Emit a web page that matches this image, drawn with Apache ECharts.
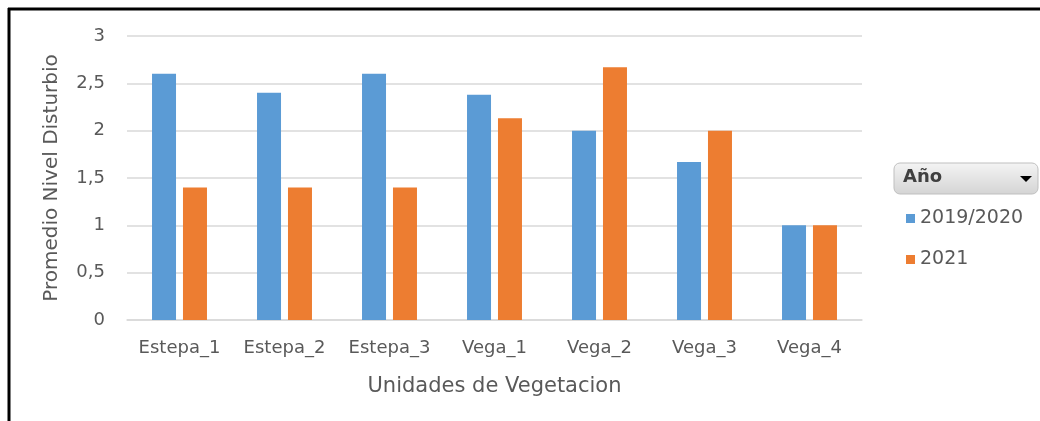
<!DOCTYPE html>
<html>
<head>
<meta charset="utf-8">
<script src="https://cdn.jsdelivr.net/npm/echarts@6/dist/echarts.min.js"></script>
<style>
  html, body { margin: 0; padding: 0; background: #fff; }
  #chart { width: 1040px; height: 421px; }
</style>
</head>
<body>
<div id="chart"></div>
<script>
// datos
const categorias = ['Estepa_1', 'Estepa_2', 'Estepa_3', 'Vega_1', 'Vega_2', 'Vega_3', 'Vega_4'];
const serie2019 = [2.6, 2.4, 2.6, 2.38, 2.0, 1.67, 1.0];
const serie2021 = [1.4, 1.4, 1.4, 2.13, 2.67, 2.0, 1.0];
const ticksY = ['0', '0,5', '1', '1,5', '2', '2,5', '3'];

const fuente = 'DejaVu Sans';
const gris = '#595959';

const myChart = echarts.init(document.getElementById('chart'));

const option = {
  animation: false,
  textStyle: { fontFamily: fuente },
  grid: { left: 127, right: 178, top: 36, bottom: 101 },
  legend: [
    {
      data: ['2019/2020'],
      left: 901, top: 204,
      icon: 'rect', itemWidth: 9, itemHeight: 9, itemGap: 8,
      textStyle: { color: gris, fontSize: 19, fontFamily: fuente }
    },
    {
      data: ['2021'],
      left: 901, top: 245,
      icon: 'rect', itemWidth: 9, itemHeight: 9, itemGap: 8,
      textStyle: { color: gris, fontSize: 19, fontFamily: fuente }
    }
  ],
  xAxis: {
    type: 'category',
    data: categorias,
    name: 'Unidades de Vegetacion',
    nameLocation: 'middle',
    nameGap: 56,
    nameTextStyle: { color: gris, fontSize: 21, fontFamily: fuente },
    axisLine: { lineStyle: { color: '#d9d9d9', width: 1.5 } },
    axisTick: { show: false },
    axisLabel: { color: gris, fontSize: 18, margin: 19, interval: 0, fontFamily: fuente }
  },
  yAxis: {
    type: 'value',
    min: 0, max: 3, interval: 0.5,
    name: 'Promedio Nivel Disturbio',
    nameLocation: 'middle',
    nameGap: 65,
    nameTextStyle: { color: gris, fontSize: 20, fontFamily: fuente },
    axisLine: { show: false },
    axisTick: { show: false },
    splitLine: { lineStyle: { color: '#d9d9d9', width: 1.5 } },
    axisLabel: {
      color: gris, fontSize: 18, margin: 22, fontFamily: fuente,
      formatter: (v) => ticksY[Math.round(v * 2)]
    }
  },
  series: [
    {
      name: '2019/2020',
      type: 'bar',
      data: serie2019,
      barWidth: 24,
      barGap: '29%',
      itemStyle: { color: '#5b9bd5' }
    },
    {
      name: '2021',
      type: 'bar',
      data: serie2021,
      barWidth: 24,
      itemStyle: { color: '#ed7d31' }
    }
  ],
  graphic: [
    // marco negro (arriba e izquierda)
    { type: 'line', shape: { x1: 8, y1: 9, x2: 1040, y2: 9 }, style: { stroke: '#000', lineWidth: 3 } },
    { type: 'line', shape: { x1: 9, y1: 8, x2: 9, y2: 421 }, style: { stroke: '#000', lineWidth: 3 } },
    // boton del filtro "Año"
    {
      type: 'rect',
      shape: { x: 894, y: 163, width: 144, height: 31, r: 6 },
      style: {
        fill: new echarts.graphic.LinearGradient(0, 0, 0, 1, [
          { offset: 0, color: '#f4f4f4' },
          { offset: 1, color: '#d4d4d4' }
        ]),
        stroke: '#bfbfbf', lineWidth: 1
      }
    },
    {
      type: 'text', left: 903, top: 168,
      style: { text: 'Año', font: 'bold 18px ' + fuente, fill: '#404040' }
    },
    {
      type: 'polygon',
      shape: { points: [[1020, 176], [1032, 176], [1026, 182]] },
      style: { fill: '#000' }
    }
  ]
};

myChart.setOption(option);
</script>
</body>
</html>
